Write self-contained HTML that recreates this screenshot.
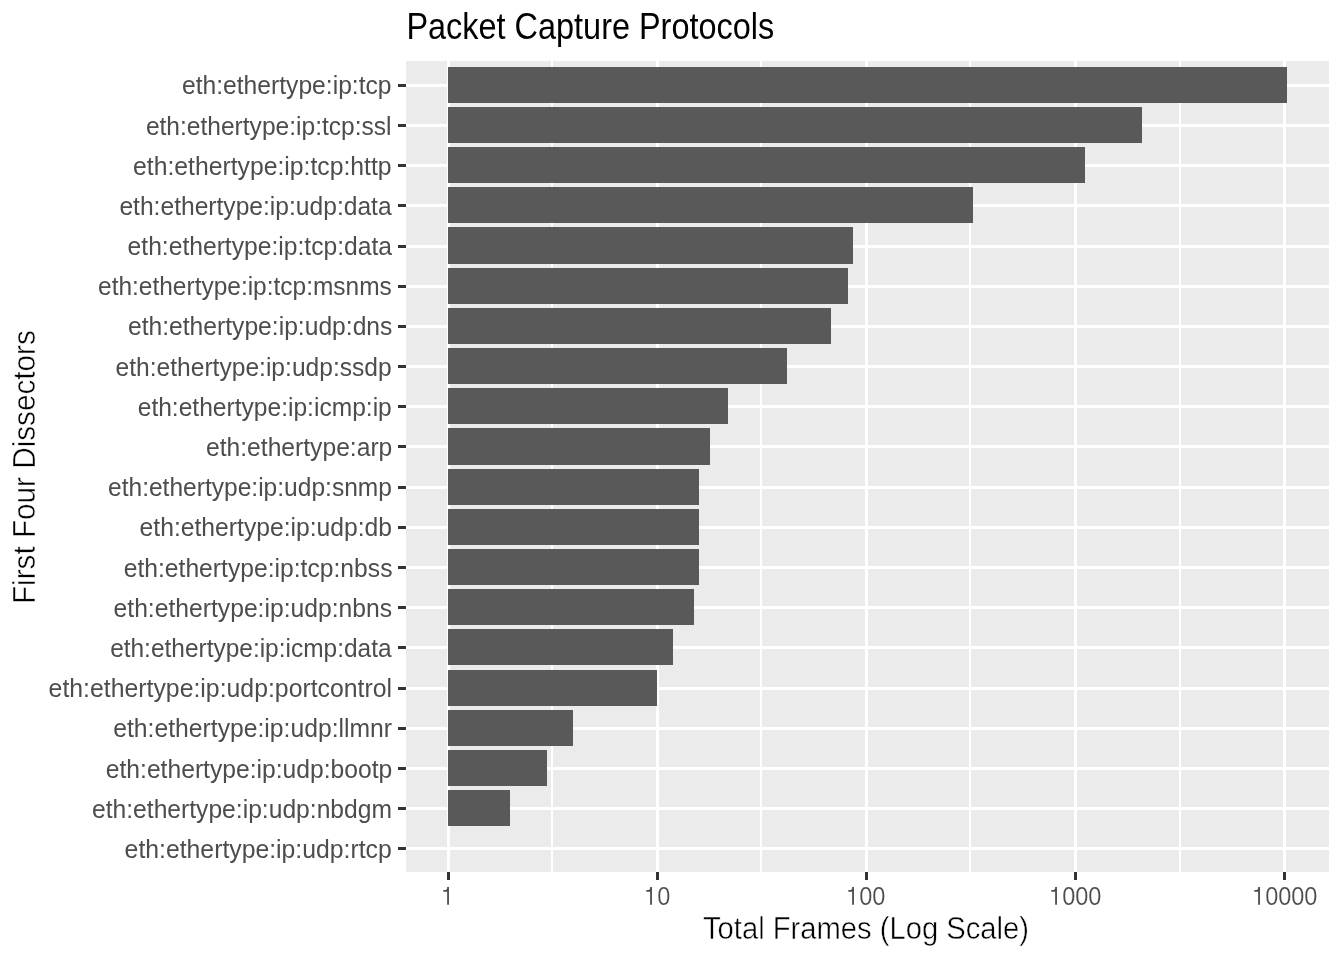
<!DOCTYPE html>
<html><head><meta charset="utf-8"><title>Packet Capture Protocols</title>
<style>
html,body{margin:0;padding:0;background:#fff;}
body{width:1344px;height:960px;position:relative;overflow:hidden;font-family:"Liberation Sans",sans-serif;}
.a{position:absolute;}
.t{position:absolute;white-space:nowrap;line-height:1;filter:grayscale(1);}
.yl{font-size:24.65px;color:#4D4D4D;right:952px;transform-origin:100% 20.87px;}
.g{position:absolute;background:#fff;}
.b{position:absolute;background:#595959;left:448.45px;}
.tk{position:absolute;background:#333;}
.d{position:absolute;filter:grayscale(1);width:20px;text-align:center;font-size:23.5px;line-height:1;color:#4D4D4D;white-space:nowrap;transform-origin:50% 19.9px;transform:scale(1.0,1.06);-webkit-text-stroke:0.15px #fff;}
.one{position:absolute;}
</style></head><body>

<div class="a" style="left:406px;top:61px;width:923px;height:811px;background:#EBEBEB"></div>
<div class="g" style="left:551px;top:61px;width:2px;height:811px"></div>
<div class="g" style="left:760px;top:61px;width:2px;height:811px"></div>
<div class="g" style="left:969px;top:61px;width:2px;height:811px"></div>
<div class="g" style="left:1179px;top:61px;width:2px;height:811px"></div>
<div class="g" style="left:406px;top:84px;width:923px;height:3px"></div>
<div class="g" style="left:406px;top:124px;width:923px;height:3px"></div>
<div class="g" style="left:406px;top:164px;width:923px;height:3px"></div>
<div class="g" style="left:406px;top:204px;width:923px;height:3px"></div>
<div class="g" style="left:406px;top:245px;width:923px;height:3px"></div>
<div class="g" style="left:406px;top:285px;width:923px;height:3px"></div>
<div class="g" style="left:406px;top:325px;width:923px;height:3px"></div>
<div class="g" style="left:406px;top:365px;width:923px;height:3px"></div>
<div class="g" style="left:406px;top:405px;width:923px;height:3px"></div>
<div class="g" style="left:406px;top:445px;width:923px;height:3px"></div>
<div class="g" style="left:406px;top:486px;width:923px;height:3px"></div>
<div class="g" style="left:406px;top:526px;width:923px;height:3px"></div>
<div class="g" style="left:406px;top:566px;width:923px;height:3px"></div>
<div class="g" style="left:406px;top:606px;width:923px;height:3px"></div>
<div class="g" style="left:406px;top:646px;width:923px;height:3px"></div>
<div class="g" style="left:406px;top:687px;width:923px;height:3px"></div>
<div class="g" style="left:406px;top:727px;width:923px;height:3px"></div>
<div class="g" style="left:406px;top:767px;width:923px;height:3px"></div>
<div class="g" style="left:406px;top:807px;width:923px;height:3px"></div>
<div class="g" style="left:406px;top:847px;width:923px;height:3px"></div>
<div class="g" style="left:446.85px;top:61px;width:3.2px;height:811px"></div>
<div class="g" style="left:655.86px;top:61px;width:3.2px;height:811px"></div>
<div class="g" style="left:864.87px;top:61px;width:3.2px;height:811px"></div>
<div class="g" style="left:1073.88px;top:61px;width:3.2px;height:811px"></div>
<div class="g" style="left:1282.89px;top:61px;width:3.2px;height:811px"></div>
<div class="b" style="top:67px;width:838.45px;height:36px"></div>
<div class="b" style="top:107px;width:693.65px;height:36px"></div>
<div class="b" style="top:147px;width:636.55px;height:36px"></div>
<div class="b" style="top:187px;width:524.75px;height:36px"></div>
<div class="b" style="top:227px;width:404.35px;height:37px"></div>
<div class="b" style="top:268px;width:399.55px;height:36px"></div>
<div class="b" style="top:308px;width:382.61px;height:36px"></div>
<div class="b" style="top:348px;width:338.6px;height:36px"></div>
<div class="b" style="top:388px;width:279.65px;height:36px"></div>
<div class="b" style="top:428px;width:261.55px;height:37px"></div>
<div class="b" style="top:469px;width:250.61px;height:36px"></div>
<div class="b" style="top:509px;width:250.61px;height:36px"></div>
<div class="b" style="top:549px;width:250.61px;height:36px"></div>
<div class="b" style="top:589px;width:245.61px;height:36px"></div>
<div class="b" style="top:629px;width:224.65px;height:36px"></div>
<div class="b" style="top:670px;width:209.05px;height:36px"></div>
<div class="b" style="top:710px;width:124.62px;height:36px"></div>
<div class="b" style="top:750px;width:98.75px;height:36px"></div>
<div class="b" style="top:790px;width:61.61px;height:36px"></div>
<div class="tk" style="left:398px;top:84px;width:8px;height:3px"></div>
<div class="tk" style="left:398px;top:124px;width:8px;height:3px"></div>
<div class="tk" style="left:398px;top:164px;width:8px;height:3px"></div>
<div class="tk" style="left:398px;top:204px;width:8px;height:3px"></div>
<div class="tk" style="left:398px;top:245px;width:8px;height:3px"></div>
<div class="tk" style="left:398px;top:285px;width:8px;height:3px"></div>
<div class="tk" style="left:398px;top:325px;width:8px;height:3px"></div>
<div class="tk" style="left:398px;top:365px;width:8px;height:3px"></div>
<div class="tk" style="left:398px;top:405px;width:8px;height:3px"></div>
<div class="tk" style="left:398px;top:445px;width:8px;height:3px"></div>
<div class="tk" style="left:398px;top:486px;width:8px;height:3px"></div>
<div class="tk" style="left:398px;top:526px;width:8px;height:3px"></div>
<div class="tk" style="left:398px;top:566px;width:8px;height:3px"></div>
<div class="tk" style="left:398px;top:606px;width:8px;height:3px"></div>
<div class="tk" style="left:398px;top:646px;width:8px;height:3px"></div>
<div class="tk" style="left:398px;top:687px;width:8px;height:3px"></div>
<div class="tk" style="left:398px;top:727px;width:8px;height:3px"></div>
<div class="tk" style="left:398px;top:767px;width:8px;height:3px"></div>
<div class="tk" style="left:398px;top:807px;width:8px;height:3px"></div>
<div class="tk" style="left:398px;top:847px;width:8px;height:3px"></div>
<div class="tk" style="left:447px;top:872px;width:2.9px;height:8px"></div>
<div class="tk" style="left:656.01px;top:872px;width:2.9px;height:8px"></div>
<div class="tk" style="left:865.02px;top:872px;width:2.9px;height:8px"></div>
<div class="tk" style="left:1074.03px;top:872px;width:2.9px;height:8px"></div>
<div class="tk" style="left:1283.04px;top:872px;width:2.9px;height:8px"></div>
<div class="t yl" style="top:74.33px;transform:scale(1.0004,1.08)">eth:ethertype:ip:tcp</div>
<div class="t yl" style="top:114.52px;transform:scale(0.9964,1.08)">eth:ethertype:ip:tcp:ssl</div>
<div class="t yl" style="top:154.71px;transform:scale(1.0037,1.08)">eth:ethertype:ip:tcp:http</div>
<div class="t yl" style="top:194.9px;transform:scale(0.9985,1.08)">eth:ethertype:ip:udp:data</div>
<div class="t yl" style="top:235.09px;transform:scale(1.0000,1.08)">eth:ethertype:ip:tcp:data</div>
<div class="t yl" style="top:275.28px;transform:scale(0.9931,1.08)">eth:ethertype:ip:tcp:msnms</div>
<div class="t yl" style="top:315.47px;transform:scale(1.0002,1.08)">eth:ethertype:ip:udp:dns</div>
<div class="t yl" style="top:355.66px;transform:scale(0.9982,1.08)">eth:ethertype:ip:udp:ssdp</div>
<div class="t yl" style="top:395.85px;transform:scale(0.9972,1.08)">eth:ethertype:ip:icmp:ip</div>
<div class="t yl" style="top:436.04px;transform:scale(1.0001,1.08)">eth:ethertype:arp</div>
<div class="t yl" style="top:476.23px;transform:scale(0.9965,1.08)">eth:ethertype:ip:udp:snmp</div>
<div class="t yl" style="top:516.42px;transform:scale(1.0015,1.08)">eth:ethertype:ip:udp:db</div>
<div class="t yl" style="top:556.61px;transform:scale(1.0012,1.08)">eth:ethertype:ip:tcp:nbss</div>
<div class="t yl" style="top:596.8px;transform:scale(1.0016,1.08)">eth:ethertype:ip:udp:nbns</div>
<div class="t yl" style="top:636.99px;transform:scale(0.9925,1.08)">eth:ethertype:ip:icmp:data</div>
<div class="t yl" style="top:677.18px;transform:scale(1.0070,1.08)">eth:ethertype:ip:udp:portcontrol</div>
<div class="t yl" style="top:717.37px;transform:scale(1.0027,1.08)">eth:ethertype:ip:udp:llmnr</div>
<div class="t yl" style="top:757.56px;transform:scale(1.0008,1.08)">eth:ethertype:ip:udp:bootp</div>
<div class="t yl" style="top:797.75px;transform:scale(1.0001,1.08)">eth:ethertype:ip:udp:nbdgm</div>
<div class="t yl" style="top:837.94px;transform:scale(1.0052,1.08)">eth:ethertype:ip:udp:rtcp</div>
<svg class="one" style="left:443px;top:886px" width="8" height="20" viewBox="0 0 8 20"><path d="M4.15 1.1h1.8v17.7h-1.8zM0.3 4.1h4.2v1.7h-4.2zM2.6 4.3l1.8-1.8 0.4 1.8z" fill="#4D4D4D"/></svg>
<svg class="one" style="left:646px;top:886px" width="8" height="20" viewBox="0 0 8 20"><path d="M4.15 1.1h1.8v17.7h-1.8zM0.3 4.1h4.2v1.7h-4.2zM2.6 4.3l1.8-1.8 0.4 1.8z" fill="#4D4D4D"/></svg>
<div class="d" style="left:653.75px;top:885.91px">0</div>
<svg class="one" style="left:848px;top:886px" width="8" height="20" viewBox="0 0 8 20"><path d="M4.15 1.1h1.8v17.7h-1.8zM0.3 4.1h4.2v1.7h-4.2zM2.6 4.3l1.8-1.8 0.4 1.8z" fill="#4D4D4D"/></svg>
<div class="d" style="left:855.75px;top:885.91px">0</div>
<div class="d" style="left:868.75px;top:885.91px">0</div>
<svg class="one" style="left:1051px;top:886px" width="8" height="20" viewBox="0 0 8 20"><path d="M4.15 1.1h1.8v17.7h-1.8zM0.3 4.1h4.2v1.7h-4.2zM2.6 4.3l1.8-1.8 0.4 1.8z" fill="#4D4D4D"/></svg>
<div class="d" style="left:1058.75px;top:885.91px">0</div>
<div class="d" style="left:1071.75px;top:885.91px">0</div>
<div class="d" style="left:1084.75px;top:885.91px">0</div>
<svg class="one" style="left:1254px;top:886px" width="8" height="20" viewBox="0 0 8 20"><path d="M4.15 1.1h1.8v17.7h-1.8zM0.3 4.1h4.2v1.7h-4.2zM2.6 4.3l1.8-1.8 0.4 1.8z" fill="#4D4D4D"/></svg>
<div class="d" style="left:1261.75px;top:885.91px">0</div>
<div class="d" style="left:1274.75px;top:885.91px">0</div>
<div class="d" style="left:1287.75px;top:885.91px">0</div>
<div class="d" style="left:1300.75px;top:885.91px">0</div>
<div class="t" style="left:406.4px;top:12.13px;font-size:32.45px;color:#000;transform-origin:0 27.47px;transform:scaleY(1.12)">Packet Capture Protocols</div>
<div class="t" style="left:566px;width:600px;text-align:center;top:914.98px;font-size:29.2px;color:#000;transform-origin:50% 24.72px;transform:scaleY(1.09);-webkit-text-stroke:0.45px #fff">Total Frames (Log Scale)</div>
<div class="t" style="left:-265.5px;top:441.76px;width:600px;text-align:center;font-size:29.7px;color:#000;transform-origin:300px 25.14px;transform:rotate(-90deg) scaleY(1.07);-webkit-text-stroke:0.45px #fff">First Four Dissectors</div>
</body></html>
